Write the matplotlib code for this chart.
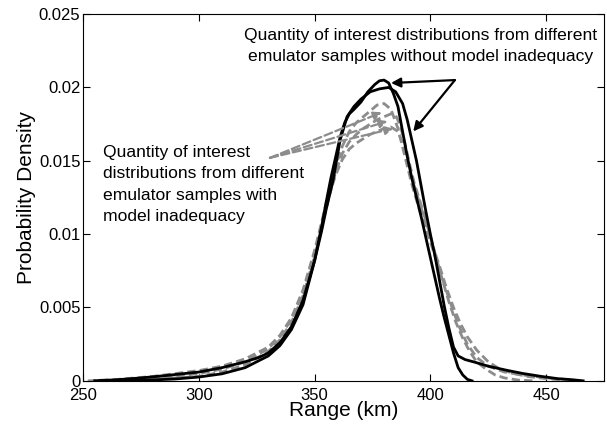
import matplotlib
matplotlib.use('Agg')
import matplotlib.pyplot as plt
import numpy as np

plt.rcParams['font.family'] = ['Liberation Sans', 'DejaVu Sans']

#
# Curves: range (km) and probability density
#
# black, without model inadequacy
xa = [257, 270, 280, 290, 300, 310, 320, 330, 335, 340, 345, 350, 353, 355, 357, 359, 361, 363, 365, 367,
      370, 373, 376, 378, 380, 382, 384, 386, 388, 390, 392, 394, 396, 398, 400, 402, 404, 406, 408, 410,
      412, 414, 416, 418]
ya = [0, 0.00002, 0.00006, 0.00013, 0.00026, 0.00048, 0.0009, 0.0017, 0.0024, 0.0035, 0.0052, 0.0082, 0.0105,
      0.0122, 0.0138, 0.0152, 0.0166, 0.0176, 0.0182, 0.0185, 0.0190, 0.0197, 0.0202, 0.02045, 0.0205, 0.0203,
      0.0196, 0.0187, 0.0170, 0.0153, 0.0138, 0.0125, 0.0112, 0.0098, 0.0084, 0.0070, 0.0056, 0.0043, 0.0031,
      0.0019, 0.0009, 0.0004, 0.0001, 0]

xb = [255, 265, 275, 285, 300, 310, 320, 326, 330, 335, 340, 345, 350, 353, 355, 358, 361, 364, 367, 370,
      374, 378, 382, 385, 388, 390, 392, 394, 396, 398, 400, 402, 404, 406, 408, 410, 412, 415, 419, 425,
      433, 440, 448, 455, 461, 466]
yb = [0, 0.00008, 0.0002, 0.00035, 0.0006, 0.0009, 0.0013, 0.0016, 0.0019, 0.0026, 0.0037, 0.0055, 0.0082,
      0.0102, 0.0117, 0.0137, 0.0164, 0.0180, 0.0187, 0.0192, 0.0197, 0.0199, 0.0200, 0.0197, 0.0189, 0.0178,
      0.0164, 0.0150, 0.0133, 0.0116, 0.0100, 0.0085, 0.0068, 0.0051, 0.0036, 0.0023, 0.0017, 0.00145,
      0.00128, 0.0010, 0.00072, 0.0005, 0.0003, 0.00015, 0.00008, 0]

# gray dashed, with model inadequacy
xg1 = [252, 265, 280, 290, 300, 310, 320, 330, 335, 340, 345, 350, 353, 356, 359, 362, 365, 368, 371, 374,
       377, 380, 383, 386, 389, 392, 395, 398, 401, 404, 407, 410, 413, 416, 420, 425, 432, 440, 450, 458, 465]
yg1 = [0, 0.0001, 0.0003, 0.0005, 0.0007, 0.0010, 0.0015, 0.0023, 0.0031, 0.0043, 0.0062, 0.0089, 0.0108,
       0.0128, 0.0146, 0.0160, 0.0170, 0.0176, 0.0180, 0.0184, 0.0188, 0.0189, 0.0185, 0.0172, 0.0153, 0.0134,
       0.0118, 0.0104, 0.0090, 0.0075, 0.0061, 0.0047, 0.0035, 0.0025, 0.0016, 0.0010, 0.0006, 0.0004, 0.0002,
       0.0001, 0]

xg2 = [255, 270, 285, 300, 310, 320, 330, 335, 340, 345, 350, 353, 356, 359, 362, 365, 368, 371, 374, 377,
       380, 383, 385, 387, 389, 391, 393, 396, 399, 402, 405, 408, 411, 414, 417, 420, 424, 428, 432, 438, 445]
yg2 = [0, 0.00005, 0.00015, 0.0003, 0.0006, 0.0011, 0.0020, 0.0028, 0.0040, 0.0058, 0.0085, 0.0104, 0.0124,
       0.0142, 0.0155, 0.0163, 0.0168, 0.0172, 0.0175, 0.0178, 0.0180, 0.0182, 0.0181, 0.0174, 0.0162, 0.0148,
       0.0135, 0.0120, 0.0104, 0.0087, 0.0070, 0.0054, 0.0040, 0.0029, 0.0020, 0.0013, 0.0008, 0.0004, 0.0002,
       0.00005, 0]

xg3 = [258, 275, 290, 300, 310, 320, 330, 335, 340, 345, 350, 353, 356, 359, 362, 365, 368, 371, 374, 377,
       380, 383, 386, 388, 390, 392, 395, 398, 401, 404, 407, 410, 413, 416, 420, 425, 430, 436, 442, 450, 458, 463]
yg3 = [0, 0.0001, 0.0003, 0.0005, 0.0008, 0.0013, 0.0022, 0.0030, 0.0042, 0.0060, 0.0087, 0.0106, 0.0125,
       0.0140, 0.0151, 0.0158, 0.0162, 0.0165, 0.0168, 0.0170, 0.0172, 0.0173, 0.0170, 0.0162, 0.0150, 0.0138,
       0.0123, 0.0108, 0.0092, 0.0078, 0.0063, 0.0050, 0.0039, 0.0030, 0.0021, 0.0013, 0.0008, 0.0005, 0.0003,
       0.00015, 0.00005, 0]

xticks = [250, 300, 350, 400, 450]
yticks = [0, 0.005, 0.01, 0.015, 0.02, 0.025]
ytick_labels = ['0', '0.005', '0.01', '0.015', '0.02', '0.025']

# annotation anchors (data coords)
black_tail = (410.6, 0.0205)
black_heads = [(383.0, 0.0203), (392.6, 0.0170)]
gray_tail = (330.7, 0.0152)
gray_heads = [(379.0, 0.0183), (381.5, 0.0177), (384.0, 0.0172)]

fig = plt.figure(figsize=(6.07, 4.26), dpi=100)
ax = fig.add_axes([0.137, 0.106, 0.858, 0.861])

gray = '#8c8c8c'
for x, y in [(xg1, yg1), (xg2, yg2), (xg3, yg3)]:
    ax.plot(x, y, linestyle='--', dashes=(3, 1.5), linewidth=2.0, color=gray)
ax.plot(xa, ya, '-', linewidth=2.0, color='black')
ax.plot(xb, yb, '-', linewidth=2.0, color='black')

# arrows
for h in black_heads:
    ax.annotate('', xy=h, xytext=black_tail,
                arrowprops=dict(arrowstyle='-|>', color='black', lw=1.6, mutation_scale=14,
                                shrinkA=0, shrinkB=0))
for h in gray_heads:
    ax.annotate('', xy=h, xytext=gray_tail,
                arrowprops=dict(arrowstyle='-|>', color=gray, lw=1.6, linestyle='--',
                                mutation_scale=12, shrinkA=0, shrinkB=0))

ax.text(395.6, 0.02282, 'Quantity of interest distributions from different\n'
        'emulator samples without model inadequacy',
        ha='center', va='center', fontsize=12.6, linespacing=1.55)
ax.text(258.5, 0.0161, 'Quantity of interest\ndistributions from different\n'
        'emulator samples with\nmodel inadequacy',
        ha='left', va='top', fontsize=12.6, linespacing=1.55)

ax.set_xlim(250, 475)
ax.set_ylim(0, 0.025)
ax.set_xticks(xticks)
ax.set_yticks(yticks)
ax.set_yticklabels(ytick_labels)
ax.tick_params(direction='in', top=True, right=True, labelsize=12, length=5, pad=2)
ax.tick_params(axis='x', pad=5)
for s in ax.spines.values():
    s.set_linewidth(0.8)
ax.set_xlabel('Range (km)', fontsize=15, labelpad=-1)
ax.set_ylabel('Probability Density', fontsize=15, labelpad=2)

fig.savefig('out.png', dpi=100)
